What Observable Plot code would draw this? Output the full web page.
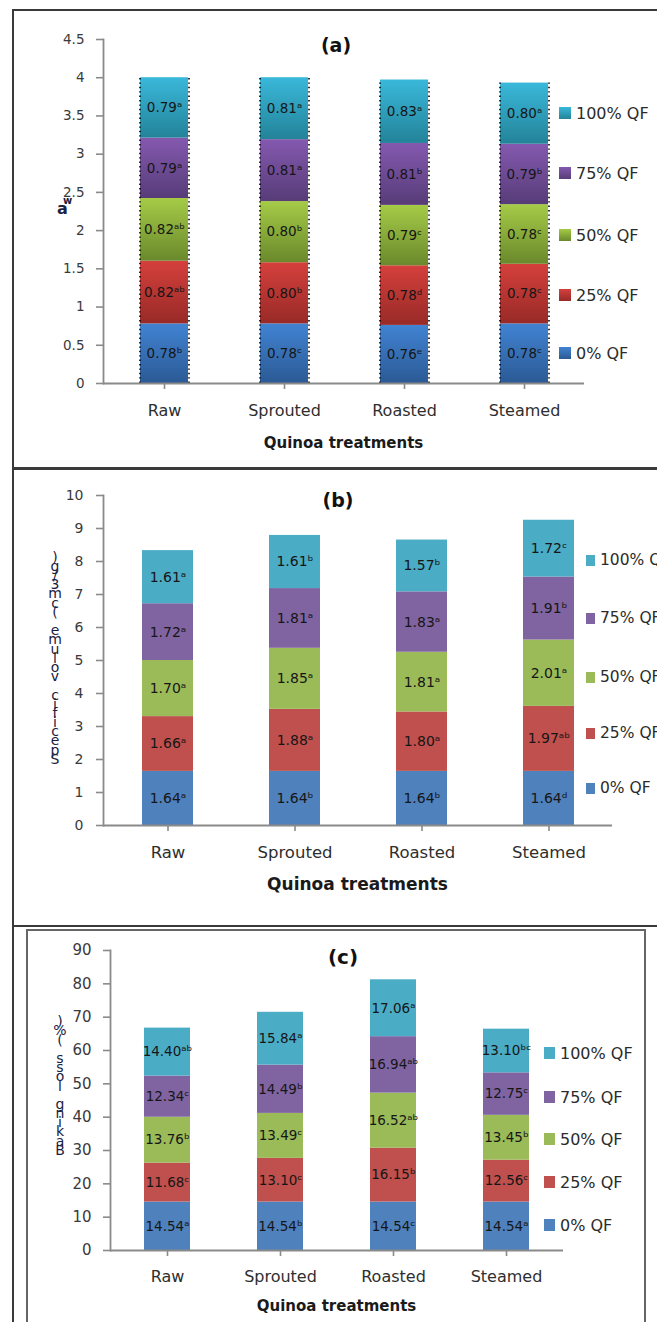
<!DOCTYPE html>
<html>
<head>
<meta charset="utf-8">
<script src="https://cdn.jsdelivr.net/npm/d3@7"></script>
<script src="https://cdn.jsdelivr.net/npm/@observablehq/plot@0.6"></script>
<style>
  html, body { margin: 0; padding: 0; background: #fff; }
  body { width: 657px; height: 1322px; position: relative; overflow: hidden; font-family: 'DejaVu Sans', sans-serif; }
  .abs { position: absolute; }
  .frame { position: absolute; border: 2px solid #3a3a3a; box-sizing: border-box; pointer-events: none; }
  .ptitle { position: absolute; transform: translate(-50%, -50%); font-weight: bold; color: #111; white-space: nowrap; }
  .xtitle { position: absolute; transform: translate(-50%, -50%); font-weight: bold; color: #1a1a1a; white-space: nowrap; }
  .leg { position: absolute; display: flex; align-items: center; white-space: nowrap; color: #2b2b2b; }
  .leg .sw { display: inline-block; margin-right: 5px; }
  .vlab { position: absolute; display: flex; flex-direction: column-reverse; align-items: center; color: #1b2140; font-size: 14px; transform: translateX(-50%); }
  .vlab span { display: block; height: 9.2px; line-height: 9.2px; }
</style>
</head>
<body>
<script>
// ---------- data ----------
const categories = ["Raw", "Sprouted", "Roasted", "Steamed"];
const series = ["0% QF", "25% QF", "50% QF", "75% QF", "100% QF"];

// (a) water activity, [category][series]
const awValues = [
  [0.78, 0.82, 0.82, 0.79, 0.79],
  [0.78, 0.80, 0.80, 0.81, 0.81],
  [0.76, 0.78, 0.79, 0.81, 0.83],
  [0.78, 0.78, 0.78, 0.79, 0.80]
];
const awLetters = [
  ["b", "ab", "ab", "a", "a"],
  ["c", "b", "b", "a", "a"],
  ["e", "d", "c", "b", "a"],
  ["c", "c", "c", "b", "a"]
];

// (b) specific volume
const svValues = [
  [1.64, 1.66, 1.70, 1.72, 1.61],
  [1.64, 1.88, 1.85, 1.81, 1.61],
  [1.64, 1.80, 1.81, 1.83, 1.57],
  [1.64, 1.97, 2.01, 1.91, 1.72]
];
const svLetters = [
  ["a", "a", "a", "a", "a"],
  ["b", "a", "a", "a", "b"],
  ["b", "a", "a", "a", "b"],
  ["d", "ab", "a", "b", "c"]
];

// (c) baking loss
const blValues = [
  [14.54, 11.68, 13.76, 12.34, 14.40],
  [14.54, 13.10, 13.49, 14.49, 15.84],
  [14.54, 16.15, 16.52, 16.94, 17.06],
  [14.54, 12.56, 13.45, 12.75, 13.10]
];
const blLetters = [
  ["a", "c", "b", "c", "ab"],
  ["b", "c", "c", "b", "a"],
  ["c", "b", "ab", "ab", "a"],
  ["a", "c", "b", "c", "bc"]
];

const yTicksA = [0, 0.5, 1, 1.5, 2, 2.5, 3, 3.5, 4, 4.5];
const yTicksB = [0, 1, 2, 3, 4, 5, 6, 7, 8, 9, 10];
const yTicksC = [0, 10, 20, 30, 40, 50, 60, 70, 80, 90];

const panelTitles = ["(a)", "(b)", "(c)"];
const xTitle = "Quinoa treatments";
const yLabelB = "Specific volume (cm3/g)";
const yLabelC = "Baking loss (%)";

// ---------- styling ----------
const flatColors = ["#4F81BD", "#C0504D", "#9BBB59", "#8064A2", "#4BACC6"];
const gradColors = [
  ["#4183D2", "#2B5A95"],
  ["#D5403C", "#982A27"],
  ["#A5CB47", "#6A892C"],
  ["#8459AF", "#573C78"],
  ["#3AB8DA", "#238399"]
];
const supMap = {a: "\u1D43", b: "\u1D47", c: "\u1D9C", d: "\u1D48", e: "\u1D49"};
const sup = s => s.split("").map(ch => supMap[ch]).join("");
const f2 = d3.format(".2f");
const FONT = "'DejaVu Sans', sans-serif";
const SVGNS = "http://www.w3.org/2000/svg";

function addGradients(svg, prefix) {
  const defs = document.createElementNS(SVGNS, "defs");
  gradColors.forEach((c, i) => {
    const g = document.createElementNS(SVGNS, "linearGradient");
    g.setAttribute("id", prefix + i);
    g.setAttribute("x1", "0"); g.setAttribute("y1", "0");
    g.setAttribute("x2", "0"); g.setAttribute("y2", "1");
    [[0, c[0]], [1, c[1]]].forEach(([o, col]) => {
      const s = document.createElementNS(SVGNS, "stop");
      s.setAttribute("offset", o);
      s.setAttribute("stop-color", col);
      g.appendChild(s);
    });
    defs.appendChild(g);
  });
  svg.insertBefore(defs, svg.firstChild);
}

function makePanel(cfg) {
  const rows = [];
  categories.forEach((c, ci) => series.forEach((s, si) => rows.push({
    cat: c, si, series: s,
    value: cfg.values[ci][si],
    label: f2(cfg.values[ci][si]) + sup(cfg.letters[ci][si]),
    fill: cfg.gradient ? `url(#${cfg.prefix}${si})` : flatColors[si]
  })));
  const totals = categories.map((c, ci) => ({cat: c, total: d3.sum(cfg.values[ci])}));
  const base = {
    width: 657, height: cfg.height,
    marginTop: cfg.mt, marginBottom: cfg.mb, marginLeft: cfg.ml, marginRight: cfg.mr,
    x: {domain: categories, paddingInner: cfg.pad, paddingOuter: cfg.pad / 2, label: null},
    y: {domain: [0, cfg.yMax], label: null},
    color: {type: "identity"},
    style: {fontFamily: FONT, background: "transparent", overflow: "visible", color: "#333"}
  };
  const probe = Plot.plot({...base, marks: [Plot.barY(rows, {x: "cat", y: "value", z: "si", fill: "fill"})]});
  const bw = probe.scale("x").bandwidth || 0;
  const marks = [
    Plot.barY(rows, {x: "cat", y: "value", z: "si", fill: "fill"}),
  ];
  if (cfg.dotted) {
    marks.push(Plot.ruleX(totals, {x: "cat", y1: 0, y2: "total", dx: -bw / 2 - 0.5, stroke: "#000", strokeWidth: 1.6, strokeDasharray: "1.4,3"}));
    marks.push(Plot.ruleX(totals, {x: "cat", y1: 0, y2: "total", dx: bw / 2 + 0.5, stroke: "#000", strokeWidth: 1.6, strokeDasharray: "1.4,3"}));
  }
  marks.push(
    Plot.text(rows, Plot.stackY({x: "cat", y: "value", z: "si", text: "label", fontSize: cfg.labelSize, fill: "#161616"})),
    Plot.frame({anchor: "left", stroke: "#8a8a8a", strokeWidth: 1.8}),
    Plot.ruleY([0], {stroke: "#8a8a8a", strokeWidth: 1.8}),
    Plot.axisY({ticks: cfg.yTicks, tickFormat: d => String(d), tickSize: 7, tickPadding: cfg.ytp, stroke: "#8a8a8a", strokeWidth: 1.6, fill: "#3a3a3a", fontSize: cfg.ytickSize, label: null}),
    Plot.axisX({tickSize: 6, tickPadding: cfg.xtp, stroke: "#8a8a8a", strokeWidth: 1.6, fill: "#2e2e2e", fontSize: cfg.xtickSize, label: null})
  );
  const svg = Plot.plot({...base, marks});
  if (cfg.gradient) addGradients(svg, cfg.prefix);
  svg.style.position = "absolute";
  svg.style.left = "0px";
  svg.style.top = cfg.top + "px";
  document.body.appendChild(svg);

  // panel title
  const t = document.createElement("div");
  t.className = "ptitle";
  t.textContent = cfg.title;
  t.style.left = cfg.titleX + "px"; t.style.top = cfg.titleY + "px";
  t.style.fontSize = cfg.titleSize + "px";
  document.body.appendChild(t);

  // x title
  const xt = document.createElement("div");
  xt.className = "xtitle";
  xt.textContent = xTitle;
  xt.style.left = (cfg.ml + (657 - cfg.ml - cfg.mr) / 2) + "px";
  xt.style.top = cfg.xTitleY + "px";
  xt.style.fontSize = cfg.xTitleSize + "px";
  document.body.appendChild(xt);

  // legend (top = 100% QF)
  series.forEach((s, si) => {
    const li = document.createElement("div");
    li.className = "leg";
    li.style.left = cfg.legX + "px";
    li.style.top = (cfg.legY[si] - 10) + "px";
    li.style.height = "20px";
    li.style.fontSize = cfg.legSize + "px";
    const sw = document.createElement("span");
    sw.className = "sw";
    sw.style.width = cfg.swW + "px";
    sw.style.height = cfg.swH + "px";
    sw.style.background = cfg.gradient
      ? `linear-gradient(${gradColors[si][0]}, ${gradColors[si][1]})`
      : flatColors[si];
    li.appendChild(sw);
    li.appendChild(document.createTextNode(s));
    document.body.appendChild(li);
  });
}

// ---------- panels ----------
makePanel({
  values: awValues, letters: awLetters, gradient: true, prefix: "ga", dotted: true,
  top: 0, height: 468, mt: 39, mb: 85, ml: 103, mr: 73, pad: 0.6,
  yMax: 4.5, yTicks: yTicksA, ytickSize: 13.5, ytp: 12, xtickSize: 16, xtp: 15,
  labelSize: 13.5,
  title: panelTitles[0], titleX: 336, titleY: 45, titleSize: 19,
  xTitleY: 443, xTitleSize: 15,
  legX: 559, legY: [353, 295, 235, 173, 113], legSize: 16, swW: 12, swH: 12
});
makePanel({
  values: svValues, letters: svLetters, gradient: false, dotted: false,
  top: 470, height: 455, mt: 25, mb: 100, ml: 103, mr: 45, pad: 0.6,
  yMax: 10, yTicks: yTicksB, ytickSize: 14, ytp: 13, xtickSize: 16.5, xtp: 15,
  labelSize: 14,
  title: panelTitles[1], titleX: 338, titleY: 500, titleSize: 19,
  xTitleY: 884, xTitleSize: 17,
  legX: 586, legY: [788, 733, 677, 618, 560], legSize: 15.5, swW: 9, swH: 11
});
makePanel({
  values: blValues, letters: blLetters, gradient: false, dotted: false,
  top: 929, height: 393, mt: 21, mb: 72, ml: 110, mr: 94, pad: 0.59,
  yMax: 90, yTicks: yTicksC, ytickSize: 15, ytp: 12, xtickSize: 16, xtp: 14,
  labelSize: 13.5,
  title: panelTitles[2], titleX: 343, titleY: 957, titleSize: 20,
  xTitleY: 1306, xTitleSize: 15,
  legX: 544, legY: [1225, 1182, 1139, 1097, 1053], legSize: 16, swW: 11, swH: 12
});

// ---------- y-axis labels ----------
(function () {
  const a = document.createElement("div");
  a.className = "abs";
  a.style.left = "57px"; a.style.top = "199px";
  a.style.color = "#1b2140";
  a.innerHTML = '<span style="font-size:16px;font-weight:bold;">a</span>';
  const w = document.createElement("span");
  w.textContent = "w";
  w.style.cssText = "position:absolute;left:6px;top:-4px;font-size:10px;font-weight:bold;";
  a.appendChild(w);
  document.body.appendChild(a);

  function vertical(text, cx, bottom) {
    const d = document.createElement("div");
    d.className = "vlab";
    d.style.left = cx + "px";
    d.style.bottom = (1322 - bottom) + "px";
    for (const ch of text) {
      const s = document.createElement("span");
      s.textContent = ch === " " ? "\u00A0" : ch;
      d.appendChild(s);
    }
    document.body.appendChild(d);
  }
  vertical(yLabelB, 55, 764);
  vertical(yLabelC, 60, 1155);
})();

// ---------- frames ----------
function frame(l, t, w, h, extra) {
  const f = document.createElement("div");
  f.className = "frame";
  f.style.left = l + "px"; f.style.top = t + "px";
  f.style.width = w + "px"; f.style.height = h + "px";
  if (extra) Object.assign(f.style, extra);
  document.body.appendChild(f);
}
frame(12, 9, 660, 460);
frame(12, 468, 660, 459);
frame(12, 925, 660, 420, {borderTop: "none", borderRight: "none"});
frame(26, 929, 620, 420, {borderColor: "#666"});
</script>
</body>
</html>
